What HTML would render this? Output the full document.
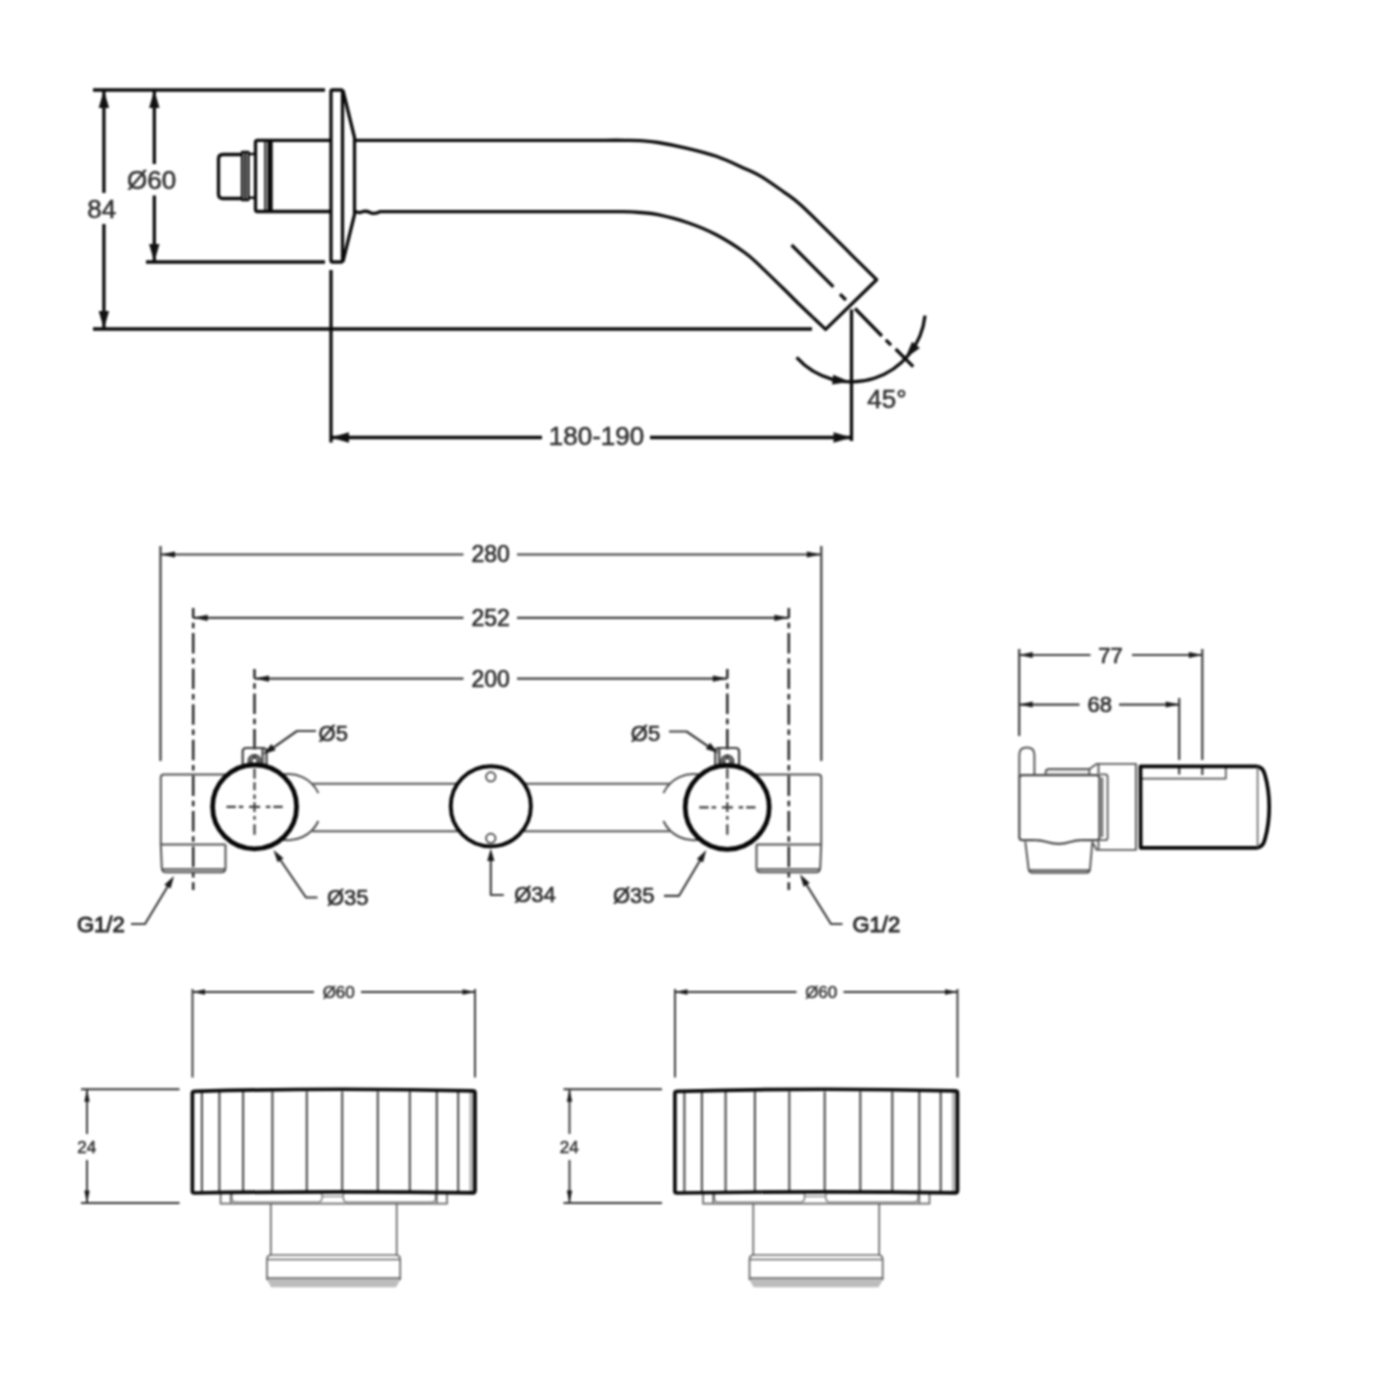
<!DOCTYPE html>
<html><head><meta charset="utf-8"><title>Technical drawing</title>
<style>
html,body{margin:0;padding:0;background:#fff;}
body{width:1376px;height:1376px;overflow:hidden;}
svg{display:block;position:absolute;left:0;top:0;filter:blur(0.8px);}
text{font-family:"Liberation Sans",sans-serif;fill:#333;}
</style></head><body>
<svg width="1376" height="1376" viewBox="0 0 1376 1376">
<rect width="1376" height="1376" fill="#fff"/>
<g fill="none" stroke="#0a0a0a" stroke-width="3.3" stroke-linecap="butt" stroke-linejoin="round">
<path d="M93,90H325 M93,329H812 M146,262H325"/>
<path d="M103.9,90V193 M103.9,224V329"/>
<path d="M154.3,90V164 M154.3,195.5V262"/>
<rect x="331" y="90" width="11.5" height="172" rx="1.5"/>
<path d="M343,90.5L354.5,137.5V214.5L343,261.5"/>
<path d="M354.5,140.3H600 C604.2,140.3 618.3,140.2 625.0,140.3 C631.7,140.4 634.5,140.3 640.0,140.7 C645.5,141.1 650.2,141.2 658.1,142.5 C666.0,143.8 677.5,146.0 687.2,148.3 C696.9,150.6 706.6,152.9 716.3,156.3 C726.0,159.7 737.7,165.3 745.3,168.7 C752.9,172.1 755.4,173.0 761.8,176.8 C768.2,180.7 777.2,187.2 783.6,191.8 C790.0,196.4 792.9,198.0 800.0,204.3 C807.1,210.6 817.7,221.3 826.2,229.6 C834.7,237.9 842.6,246.0 851.0,254.3 C859.4,262.7 872.3,275.5 876.6,279.7 L825.6,329.4L812.8,317.2"/>
<path d="M354.5,211.7L360,212.6Q365,210 370,212.4T380,211.7H600 C603.7,211.7 615.3,211.6 622.0,211.7 C628.7,211.8 634.0,212.0 640.0,212.5 C646.0,213.0 650.1,213.0 658.0,214.7 C665.9,216.4 677.5,219.2 687.2,222.5 C696.9,225.8 706.6,229.7 716.3,234.8 C726.0,239.9 737.7,247.5 745.3,253.0 C752.9,258.5 755.4,261.6 761.8,267.6 C768.2,273.6 777.2,282.6 783.6,288.8 C790.0,295.0 795.1,300.3 800.0,305.0 C804.9,309.7 810.7,315.2 812.8,317.2"/>
<path d="M331,140.3H257.5Q255.5,140.3 255.5,142.3V209.5Q255.5,211.5 257.5,211.5H331"/>
<path d="M265.2,140.3V211.5" stroke-width="1.8"/>
<path d="M270,140.3V211.5" stroke-width="5.4"/>
<path d="M255.5,154H248.5 M255.5,197.8H248.5" stroke-width="2.4"/>
<path d="M248.5,152V200H242V152Z M245.2,152V200" stroke-width="2.3"/>
<path d="M242,154.5H223Q218.5,154.5 218.5,159V194Q218.5,198.5 223,198.5H242"/>
<path d="M331,270V442.5 M851.5,309.5V441"/>
<path d="M331,437.5H542 M650,437.5H851.5"/>
<path d="M791.6,245L833.4,286.9 M840,294.1L845.9,300 M855,308.5L881.9,336 M885.8,339.9L891,345.1 M895.6,349L913.2,366.7"/>
<path d="M796.6,357.4 A73.9,73.9 0 0 0 925.0,315.7"/>
</g>
<polygon points="103.9,90.0 109.1,108.0 98.7,108.0" fill="#111"/>
<polygon points="103.9,329.0 98.7,311.0 109.1,311.0" fill="#111"/>
<polygon points="154.3,90.0 159.5,108.0 149.1,108.0" fill="#111"/>
<polygon points="154.3,262.0 149.1,244.0 159.5,244.0" fill="#111"/>
<polygon points="331.0,437.5 349.0,432.3 349.0,442.7" fill="#111"/>
<polygon points="851.5,437.5 833.5,442.7 833.5,432.3" fill="#111"/>
<polygon points="850.0,381.8 832.0,384.6 833.2,374.7" fill="#111"/>
<polygon points="905.0,358.5 912.1,341.7 919.9,348.0" fill="#111"/>
<g fill="none" stroke="#3c3c3c" stroke-width="2.2" stroke-linejoin="round">
<path d="M160.5,546V761 M821.3,546V761"/>
<path d="M160.5,554.5H463.5 M517,554.5H821.3"/>
<path d="M193.2,617.8H463.5 M517,617.8H788.8"/>
<path d="M254.5,678.6H463.5 M517,678.6H727.3"/>
<path d="M193.2,608V890 M788.8,608V890" stroke-dasharray="20.5 4.8 5.5 4.8" stroke-dashoffset="10.6" stroke="#262626" stroke-width="2.5"/>
<path d="M254.5,669V757 M727.3,669V757" stroke-dasharray="20.5 4.8 5.5 4.8" stroke-dashoffset="11.1" stroke="#262626" stroke-width="2.5"/>
<path d="M313,783.8H670 M312,831.3H670" stroke="#505050" stroke-width="2"/>
<path d="M230,774.5H164Q160.8,774.5 160.8,777.5V844.5H225.5" stroke="#505050" stroke-width="2"/>
<path d="M160.8,844.5L161.8,868Q162,872.3 166,872.3H221.5Q225.5,872.3 225.5,868V844.5 M163,869.2H224.5" stroke="#505050" stroke-width="2"/>
<path d="M752,774.5H818Q821.2,774.5 821.2,777.5V844.5H756.5" stroke="#505050" stroke-width="2"/>
<path d="M821.2,844.5L820.2,868Q820,872.3 816,872.3H760.5Q756.5,872.3 756.5,868V844.5 M758,869.2H819" stroke="#505050" stroke-width="2"/>
<path stroke="#505050" stroke-width="2" d="M280.0,775.2A33,33 0 0 1 318.4,793.2 M318.4,821.0A33,33 0 0 1 280.0,839.0"/>
<path stroke="#505050" stroke-width="2" d="M701.8,775.2A33,33 0 0 0 663.4,793.2 M663.4,821.0A33,33 0 0 0 701.8,839.0"/>
<path d="M242.7,775V751.5Q242.7,748 246.2,748H263Q266.5,748 266.5,751.5V775 M262.6,748.5V775"/>
<circle cx="254.5" cy="761" r="6"/><circle cx="254.5" cy="761" r="3.3"/>
<path d="M715.3,775V751.5Q715.3,748 718.8,748H735.6Q739.1,748 739.1,751.5V775 M719.2,748.5V775"/>
<circle cx="727.3" cy="761.5" r="6"/><circle cx="727.3" cy="761.5" r="3.3"/>
<path d="M316,731H297L270,750"/>
<path d="M669,731.5H686.5L712,749"/>
<path d="M317.5,897.5H306L279,858"/>
<path d="M664,895.8H679L701.5,858"/>
<path d="M131,924H145L169.5,883.5"/>
<path d="M842.5,924H831L804.5,881.5"/>
<path d="M490.8,860V895H503.8"/>
</g>
<circle cx="254.6" cy="806.8" r="42.0" fill="#fff" stroke="#050505" stroke-width="4.7"/>
<circle cx="727.2" cy="807.3" r="42.0" fill="#fff" stroke="#050505" stroke-width="4.7"/>
<circle cx="490.8" cy="806.3" r="40.05" fill="#fff" stroke="#050505" stroke-width="3.9"/>
<g fill="none" stroke="#3c3c3c" stroke-width="2.2">
<circle cx="490.8" cy="776.8" r="4.7" stroke-width="1.7"/><circle cx="490.8" cy="838.3" r="4.7" stroke-width="1.7"/>
<path d="M226.5,806.8h9.3 m3,0h4.5 m5.8,0h11 m5.8,0h4.5 m3,0h9.3"/>
<path d="M254.5,768.4V778.8 M254.5,782.3V790.2 M254.5,794.5V798.9 M254.5,802.2V812 M254.5,815.9V819.8 M254.5,824.2V834.8"/>
<path d="M699.3,807.3h9.3 m3,0h4.5 m5.8,0h11 m5.8,0h4.5 m3,0h9.3"/>
<path d="M727.3,768.4V778.8 M727.3,782.3V790.2 M727.3,794.5V798.9 M727.3,802.2V812 M727.3,815.9V819.8 M727.3,824.2V834.8"/>
</g>
<polygon points="160.5,554.5 175.0,551.4 175.0,557.6" fill="#1a1a1a"/>
<polygon points="821.3,554.5 806.8,557.6 806.8,551.4" fill="#1a1a1a"/>
<polygon points="193.2,617.8 207.7,614.7 207.7,620.9" fill="#1a1a1a"/>
<polygon points="788.8,617.8 774.3,620.9 774.3,614.7" fill="#1a1a1a"/>
<polygon points="254.5,678.6 269.0,675.5 269.0,681.7" fill="#1a1a1a"/>
<polygon points="727.3,678.6 712.8,681.7 712.8,675.5" fill="#1a1a1a"/>
<polygon points="263.3,754.3 271.4,744.1 275.7,750.2" fill="#1a1a1a"/>
<polygon points="718.2,753.0 705.8,748.9 710.1,742.8" fill="#1a1a1a"/>
<polygon points="273.5,850.0 283.5,858.3 277.6,862.3" fill="#1a1a1a"/>
<polygon points="706.3,850.0 703.0,862.6 696.8,858.9" fill="#1a1a1a"/>
<polygon points="174.0,876.0 170.6,888.6 164.4,884.8" fill="#1a1a1a"/>
<polygon points="800.0,874.3 809.7,883.0 803.6,886.8" fill="#1a1a1a"/>
<polygon points="490.8,848.5 494.4,861.0 487.2,861.0" fill="#1a1a1a"/>
<g fill="none" stroke="#3c3c3c" stroke-width="2.2" stroke-linejoin="round">
<path d="M1019.2,649V736 M1202.3,649V760 M1179.2,698V760"/>
<path d="M1019.2,655H1090.5 M1132,655H1202.3 M1019.2,704.6H1079.5 M1119,704.6H1179.2"/>
<path d="M1089.4,769L1096.5,763.9H1136V849.9H1096.5L1092.9,842.8 M1098.5,764V774 M1098.5,840.5V849.5" stroke="#585858" stroke-width="1.9"/>
<path d="M1141.5,778.6H1225.8V766.5" stroke="#555" stroke-width="1.7"/>
<path d="M1179.2,766V774.5 M1202.3,766V774.9" stroke-width="2.2"/>
<path d="M1045.6,775V772.5Q1045.6,769 1049.5,769H1089.4V775Z" fill="#e4e4e4" stroke="#585858" stroke-width="1.9"/>
<path d="M1019.3,777V755Q1019.3,747.6 1026.8,747.6Q1034.4,747.6 1034.4,755V775" stroke="#585858" stroke-width="2"/>
<path d="M1022.5,775.1H1096.3Q1099.5,775.1 1099.5,778.1V837.2Q1099.5,840.2 1096.3,840.2H1081.2 M1035.4,840.2H1022.5Q1019.3,840.2 1019.3,837.2V778.1Q1019.3,775.1 1022.5,775.1" stroke="#4a4a4a" stroke-width="2.2"/>
<path d="M1099.5,774.3H1105Q1107.6,774.3 1107.6,776.8V837.7Q1107.6,840.2 1105,840.2H1099.5 M1102.3,777.5V837" stroke="#585858" stroke-width="1.8"/>
<path d="M1035.4,840.2Q1041,840.2 1047,842Q1058.8,845.6 1070,842Q1076,840.2 1081.2,840.2" stroke="#4a4a4a" stroke-width="2.2"/>
<path d="M1025.3,841.5L1028.6,869.2Q1029,872.8 1032.5,872.8H1086.5Q1089.7,872.8 1090,869.2L1092.4,841.5 M1029,870.3H1089.8" stroke="#585858" stroke-width="2"/>
</g>
<path d="M1140.5,766.3H1256Q1263,766.3 1265,775Q1269.2,790 1269.2,807Q1269.2,824 1265,839Q1263,847.8 1256,847.8H1140.7Z" fill="none" stroke="#050505" stroke-width="3.7" stroke-linejoin="round"/>
<path d="M1257.6,767V847" fill="none" stroke="#666" stroke-width="1.6"/>
<polygon points="1019.2,655.0 1032.7,652.0 1032.7,658.0" fill="#1a1a1a"/>
<polygon points="1202.3,655.0 1188.8,658.0 1188.8,652.0" fill="#1a1a1a"/>
<polygon points="1019.2,704.6 1032.7,701.6 1032.7,707.6" fill="#1a1a1a"/>
<polygon points="1179.2,704.6 1165.7,707.6 1165.7,701.6" fill="#1a1a1a"/>
<g transform="translate(0,0)">
<g fill="none" stroke="#333" stroke-width="1.9">
<path d="M192.5,989V1077.5 M475,989V1077.5"/>
<path d="M192.5,992H314 M361,992H475"/>
<path d="M81,1089.3H179.5 M81,1203H179.5 M87,1089.3V1134 M87,1160V1203"/>
<rect x="469.3" y="1092" width="4.5" height="99.5" fill="#b5b5b5" stroke="none"/>
<path d="M201.9,1091.5V1192" stroke="#4a4a4a" stroke-width="2.1"/>
<path d="M219.4,1091.5V1192" stroke="#4a4a4a" stroke-width="2.1"/>
<path d="M243.1,1091.5V1192" stroke="#4a4a4a" stroke-width="2.1"/>
<path d="M272.4,1091.5V1192" stroke="#4a4a4a" stroke-width="2.1"/>
<path d="M306.8,1091.5V1192" stroke="#4a4a4a" stroke-width="2.1"/>
<path d="M342.2,1091.5V1192" stroke="#4a4a4a" stroke-width="2.1"/>
<path d="M377.8,1091.5V1192" stroke="#4a4a4a" stroke-width="2.1"/>
<path d="M409.8,1091.5V1192" stroke="#4a4a4a" stroke-width="2.1"/>
<path d="M436.8,1091.5V1192" stroke="#4a4a4a" stroke-width="2.1"/>
<path d="M458.2,1091.5V1192" stroke="#4a4a4a" stroke-width="2.1"/>
<path d="M220.6,1193V1203.7H447V1193 M230.7,1193V1203.7 M436.8,1193V1203.7" stroke="#666" stroke-width="1.7"/>
<path d="M232,1193V1199Q232,1202 236,1202H318Q322,1202 322,1198V1193 M343.3,1193V1198Q343.3,1202 347.3,1202H431Q435.5,1202 435.5,1199V1193 M322,1196.5H343.3" stroke="#666" stroke-width="1.2"/>
<path d="M270.8,1203.7V1255 M396.7,1203.7V1255" stroke="#666" stroke-width="1.7"/>
<polygon points="267,1278 400.2,1278 400.2,1280 396,1287.3 271.2,1287.3 267,1280" fill="#bdbdbd" stroke="none"/>
<path d="M267,1280V1259.5Q267,1255 271.5,1255H395.5Q400.2,1255 400.2,1259.5V1280 M267.5,1259.5H399.8 M267,1278H400.2" stroke="#666" stroke-width="1.7"/>
</g>
<path d="M194.5,1091.3Q333,1087.5 473,1090.8Q475,1090.8 475,1093V1190.5Q475,1192.8 473,1192.8Q333,1190.8 194.5,1193Q192.4,1193 192.4,1191V1093.3Q192.4,1091.3 194.5,1091.3Z" fill="none" stroke="#0a0a0a" stroke-width="3.7"/>
<polygon points="192.5,992.0 205.0,989.3 205.0,994.7" fill="#1a1a1a"/>
<polygon points="475.0,992.0 462.5,994.7 462.5,989.3" fill="#1a1a1a"/>
<polygon points="87.0,1089.3 89.7,1101.8 84.3,1101.8" fill="#1a1a1a"/>
<polygon points="87.0,1203.0 84.3,1190.5 89.7,1190.5" fill="#1a1a1a"/>
<text x="338.7" y="998.2" font-size="17" text-anchor="middle" stroke="#333" stroke-width="0.55">Ø60</text>
<text x="86.8" y="1152.8" font-size="17" text-anchor="middle" stroke="#333" stroke-width="0.55">24</text>
</g>
<g transform="translate(482.5,0)">
<g fill="none" stroke="#333" stroke-width="1.9">
<path d="M192.5,989V1077.5 M475,989V1077.5"/>
<path d="M192.5,992H314 M361,992H475"/>
<path d="M81,1089.3H179.5 M81,1203H179.5 M87,1089.3V1134 M87,1160V1203"/>
<rect x="469.3" y="1092" width="4.5" height="99.5" fill="#b5b5b5" stroke="none"/>
<path d="M201.9,1091.5V1192" stroke="#4a4a4a" stroke-width="2.1"/>
<path d="M219.4,1091.5V1192" stroke="#4a4a4a" stroke-width="2.1"/>
<path d="M243.1,1091.5V1192" stroke="#4a4a4a" stroke-width="2.1"/>
<path d="M272.4,1091.5V1192" stroke="#4a4a4a" stroke-width="2.1"/>
<path d="M306.8,1091.5V1192" stroke="#4a4a4a" stroke-width="2.1"/>
<path d="M342.2,1091.5V1192" stroke="#4a4a4a" stroke-width="2.1"/>
<path d="M377.8,1091.5V1192" stroke="#4a4a4a" stroke-width="2.1"/>
<path d="M409.8,1091.5V1192" stroke="#4a4a4a" stroke-width="2.1"/>
<path d="M436.8,1091.5V1192" stroke="#4a4a4a" stroke-width="2.1"/>
<path d="M458.2,1091.5V1192" stroke="#4a4a4a" stroke-width="2.1"/>
<path d="M220.6,1193V1203.7H447V1193 M230.7,1193V1203.7 M436.8,1193V1203.7" stroke="#666" stroke-width="1.7"/>
<path d="M232,1193V1199Q232,1202 236,1202H318Q322,1202 322,1198V1193 M343.3,1193V1198Q343.3,1202 347.3,1202H431Q435.5,1202 435.5,1199V1193 M322,1196.5H343.3" stroke="#666" stroke-width="1.2"/>
<path d="M270.8,1203.7V1255 M396.7,1203.7V1255" stroke="#666" stroke-width="1.7"/>
<polygon points="267,1278 400.2,1278 400.2,1280 396,1287.3 271.2,1287.3 267,1280" fill="#bdbdbd" stroke="none"/>
<path d="M267,1280V1259.5Q267,1255 271.5,1255H395.5Q400.2,1255 400.2,1259.5V1280 M267.5,1259.5H399.8 M267,1278H400.2" stroke="#666" stroke-width="1.7"/>
</g>
<path d="M194.5,1091.3Q333,1087.5 473,1090.8Q475,1090.8 475,1093V1190.5Q475,1192.8 473,1192.8Q333,1190.8 194.5,1193Q192.4,1193 192.4,1191V1093.3Q192.4,1091.3 194.5,1091.3Z" fill="none" stroke="#0a0a0a" stroke-width="3.7"/>
<polygon points="192.5,992.0 205.0,989.3 205.0,994.7" fill="#1a1a1a"/>
<polygon points="475.0,992.0 462.5,994.7 462.5,989.3" fill="#1a1a1a"/>
<polygon points="87.0,1089.3 89.7,1101.8 84.3,1101.8" fill="#1a1a1a"/>
<polygon points="87.0,1203.0 84.3,1190.5 89.7,1190.5" fill="#1a1a1a"/>
<text x="338.7" y="998.2" font-size="17" text-anchor="middle" stroke="#333" stroke-width="0.55">Ø60</text>
<text x="86.8" y="1152.8" font-size="17" text-anchor="middle" stroke="#333" stroke-width="0.55">24</text>
</g>
<text x="101.8" y="218.3" font-size="26" text-anchor="middle" fill="#2a2a2a" stroke="#2a2a2a" stroke-width="0.55">84</text>
<text x="151.7" y="189.3" font-size="26" text-anchor="middle" fill="#2a2a2a" stroke="#2a2a2a" stroke-width="0.55">Ø60</text>
<text x="596.5" y="444.8" font-size="26" text-anchor="middle" fill="#2a2a2a" stroke="#2a2a2a" stroke-width="0.55">180-190</text>
<text x="887" y="407.5" font-size="26" text-anchor="middle" fill="#2a2a2a" stroke="#2a2a2a" stroke-width="0.55">45°</text>
<text x="490.6" y="562.3" font-size="23" text-anchor="middle" fill="#2a2a2a" stroke="#2a2a2a" stroke-width="0.7">280</text>
<text x="490.6" y="625.8" font-size="23" text-anchor="middle" fill="#2a2a2a" stroke="#2a2a2a" stroke-width="0.7">252</text>
<text x="490.6" y="686.8" font-size="23" text-anchor="middle" fill="#2a2a2a" stroke="#2a2a2a" stroke-width="0.7">200</text>
<text x="333.3" y="741" font-size="22" text-anchor="middle" fill="#2a2a2a" stroke="#2a2a2a" stroke-width="0.7">Ø5</text>
<text x="645.5" y="740.5" font-size="22" text-anchor="middle" fill="#2a2a2a" stroke="#2a2a2a" stroke-width="0.7">Ø5</text>
<text x="347.8" y="905" font-size="22" text-anchor="middle" fill="#2a2a2a" stroke="#2a2a2a" stroke-width="0.7">Ø35</text>
<text x="633.8" y="903" font-size="22" text-anchor="middle" fill="#2a2a2a" stroke="#2a2a2a" stroke-width="0.7">Ø35</text>
<text x="535" y="901.5" font-size="22" text-anchor="middle" fill="#2a2a2a" stroke="#2a2a2a" stroke-width="0.7">Ø34</text>
<text x="100.8" y="932" font-size="22" text-anchor="middle" fill="#222" stroke="#222" stroke-width="0.95">G1/2</text>
<text x="876.3" y="932" font-size="22" text-anchor="middle" fill="#222" stroke="#222" stroke-width="0.95">G1/2</text>
<text x="1110.6" y="662.7" font-size="22" text-anchor="middle" fill="#2a2a2a" stroke="#2a2a2a" stroke-width="0.7">77</text>
<text x="1099.8" y="712.4" font-size="22" text-anchor="middle" fill="#2a2a2a" stroke="#2a2a2a" stroke-width="0.7">68</text>
</svg>
</body></html>
